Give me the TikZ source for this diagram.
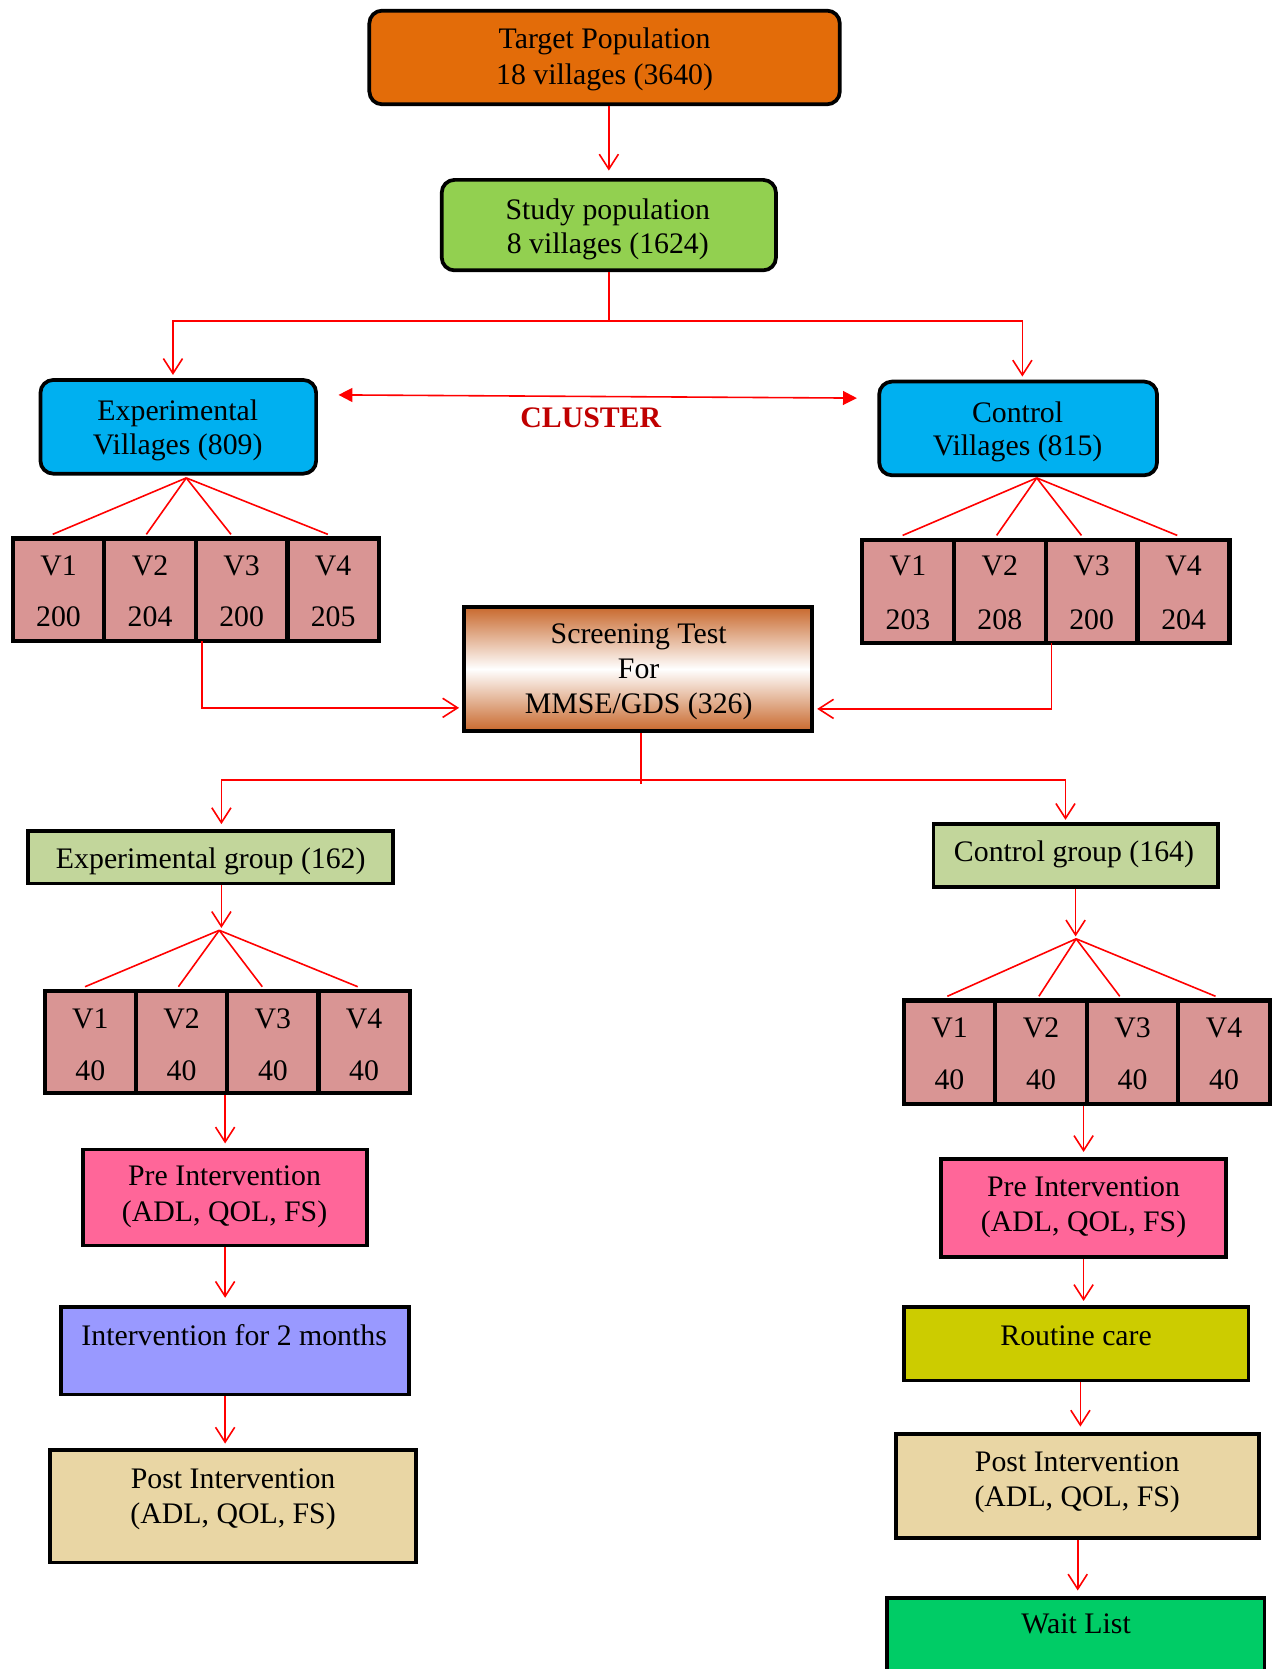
\documentclass[tikz,border=0pt]{standalone}
\usepackage{fontspec}
\setmainfont{Liberation Serif}
\usetikzlibrary{arrows.meta,calc}
\definecolor{corange}{HTML}{E36C09}
\definecolor{cgreen}{HTML}{92D050}
\definecolor{cblue}{HTML}{00B0F0}
\definecolor{cpink}{HTML}{D99594}
\definecolor{colive}{HTML}{C2D69B}
\definecolor{cmag}{HTML}{FF6699}
\definecolor{cviolet}{HTML}{9999FF}
\definecolor{cyellow}{HTML}{CCCC00}
\definecolor{cwait}{HTML}{00CC66}
\definecolor{cbeige}{RGB}{233,214,164}
\definecolor{cscr}{RGB}{200,104,44}
\definecolor{cclus}{HTML}{C00000}
\begin{document}
\begin{tikzpicture}[x=1pt,y=-1pt,
  sbox/.style={draw=black, line width=3.5pt, inner sep=0pt},
  rbox/.style={sbox, rounded corners=12pt},
  cell/.style={draw=black, line width=4pt, inner sep=0pt, fill=cpink},
  txt/.style={anchor=base, inner sep=0pt, font=\fontsize{28}{33}\selectfont},
  conn/.style={draw=red, line width=1.5pt},
  arr/.style={conn, -{Straight Barb[length=14pt,width=18pt]}},
  clus/.style={conn, {Triangle[length=13pt,width=13pt]}-{Triangle[length=13pt,width=13pt]}}
]
\useasboundingbox (0,0) rectangle (1198,1568);
\fill[white] (0,0) rectangle (1198,1568);

% main boxes
\node[rbox, fill=corange, minimum width=442pt, minimum height=88pt] (tp) at (568,54) {};
\node[rbox, fill=cgreen, minimum width=314pt, minimum height=85pt] (sp) at (572,211.5) {};
\node[rbox, fill=cblue, minimum width=259pt, minimum height=88pt] (ev) at (167.5,401) {};
\node[rbox, fill=cblue, minimum width=261pt, minimum height=88pt] (cv) at (956.5,402.5) {};
\node[sbox, top color=cscr, bottom color=cscr, middle color=white, minimum width=327pt, minimum height=117pt] (scr) at (599.5,628.5) {};
\node[sbox, fill=colive, minimum width=343pt, minimum height=49pt] (eg) at (197.5,805.5) {};
\node[sbox, fill=colive, minimum width=267pt, minimum height=59pt] (cg) at (1010.5,803.5) {};
\node[sbox, fill=cmag, minimum width=267pt, minimum height=90pt] (epre) at (211.5,1125) {};
\node[sbox, fill=cviolet, minimum width=327pt, minimum height=82pt] (eint) at (220.5,1269) {};
\node[sbox, fill=cbeige, minimum width=344pt, minimum height=106pt] (epost) at (219,1415) {};
\node[sbox, fill=cmag, minimum width=268pt, minimum height=92pt] (cpre) at (1018,1135) {};
\node[sbox, fill=cyellow, minimum width=324pt, minimum height=69pt] (rc) at (1011,1262.5) {};
\node[sbox, fill=cbeige, minimum width=341pt, minimum height=98pt] (cpost) at (1012.5,1396) {};
\node[sbox, fill=cwait, minimum width=355pt, minimum height=80pt] (wl) at (1010.5,1541) {};

% village cells
\foreach \i/\x/\v in {1/55/200,2/141/204,3/227/200,4/313/205}{
  \node[cell, minimum width=86pt, minimum height=96pt] (ev\i) at (\x,554) {};
  \node[txt] (evl\i) at (\x,541) {V\i};
  \node[txt] (evn\i) at (\x,589) {\v};
}
\foreach \i/\x/\v in {1/853/203,2/939.3/208,3/1025.6/200,4/1112/204}{
  \node[cell, minimum width=86.3pt, minimum height=97pt] (cv\i) at (\x,555.5) {};
  \node[txt] (cvl\i) at (\x,541) {V\i};
  \node[txt] (cvn\i) at (\x,591) {\v};
}
\foreach \i/\x in {1/84.9,2/170.6,3/256.4,4/342.1}{
  \node[cell, minimum width=85.75pt, minimum height=96pt] (egc\i) at (\x,979) {};
  \node[txt] (egl\i) at (\x,966) {V\i};
  \node[txt] (egn\i) at (\x,1015) {40};
}
\foreach \i/\x in {1/892,2/978,3/1064,4/1150}{
  \node[cell, minimum width=86pt, minimum height=97pt] (cgc\i) at (\x,988.5) {};
  \node[txt] (cgl\i) at (\x,975) {V\i};
  \node[txt] (cgn\i) at (\x,1024) {40};
}

% texts
\node[txt] (tpt1) at (568,46) {Target Population};
\node[txt] (tpt2) at (568,79) {18 villages (3640)};
\node[txt] (spt1) at (571,206) {Study population};
\node[txt] (spt2) at (571,238) {8 villages (1624)};
\node[txt] (evt1) at (167,395) {Experimental};
\node[txt] (evt2) at (167,427) {Villages (809)};
\node[txt] (cvt1) at (956,397) {Control};
\node[txt] (cvt2) at (956,428) {Villages (815)};
\node[txt, font=\fontsize{28}{33}\selectfont\bfseries, text=cclus] (clt) at (555,402) {CLUSTER};
\node[txt] (scrt1) at (600,605) {Screening Test};
\node[txt] (scrt2) at (600,637) {For};
\node[txt] (scrt3) at (600,670) {MMSE/GDS (326)};
\node[txt] (egt) at (198,816) {Experimental group (162)};
\node[txt] (cgt) at (1009,809) {Control group (164)};
\node[txt] (eprt1) at (211,1114) {Pre Intervention};
\node[txt] (eprt2) at (211,1148) {(ADL, QOL, FS)};
\node[txt] (eintt) at (220,1264) {Intervention for 2 months};
\node[txt] (epot1) at (219,1398) {Post Intervention};
\node[txt] (epot2) at (219,1431) {(ADL, QOL, FS)};
\node[txt] (cprt1) at (1018,1124) {Pre Intervention};
\node[txt] (cprt2) at (1018,1157) {(ADL, QOL, FS)};
\node[txt] (rct) at (1011,1264) {Routine care};
\node[txt] (cpot1) at (1012,1382) {Post Intervention};
\node[txt] (cpot2) at (1012,1415) {(ADL, QOL, FS)};
\node[txt] (wlt) at (1011,1535) {Wait List};

% connectors
\draw[arr] (tp.south -| sp.north) -- ([yshift=7pt]sp.north);
\draw[arr] (sp.south) -- ++(0,46) -| ([xshift=-5pt,yshift=3pt]ev.north);
\draw[arr] (sp.south) -- ++(0,46) -| ([xshift=4pt,yshift=3pt]cv.north);

\coordinate (cl1) at (318,371);
\coordinate (cl2) at (805,374);
\draw[clus] (cl1) -- (cl2);

\coordinate (eva) at (175,449);
\draw[conn] (eva) -- ([xshift=-5.5pt,yshift=2pt]ev1.north);
\draw[conn] (eva) -- ([xshift=-3.5pt,yshift=2pt]ev2.north);
\draw[conn] (eva) -- ([xshift=-10pt,yshift=2pt]ev3.north);
\draw[conn] (eva) -- ([xshift=-5pt,yshift=2pt]ev4.north);

\coordinate (cva) at (974,449);
\draw[conn] (cva) -- ([xshift=-5pt,yshift=2pt]cv1.north);
\draw[conn] (cva) -- ([xshift=-3pt,yshift=2pt]cv2.north);
\draw[conn] (cva) -- ([xshift=-9.6pt,yshift=2pt]cv3.north);
\draw[conn] (cva) -- ([xshift=-6pt,yshift=2pt]cv4.north);

\draw[arr] ([xshift=-37pt,yshift=2pt]ev3.south) |- ([xshift=-3pt,yshift=-36.5pt]scr.west);
\draw[arr] ([xshift=-37.6pt,yshift=2pt]cv3.south) |- ([xshift=3pt,yshift=-37.5pt]scr.east);

\draw[conn] ([xshift=2.5pt]scr.south) -- ++(0,48);
\draw[arr] ([xshift=2.5pt]scr.south) ++(0,44) -| ([xshift=10.5pt,yshift=5pt]eg.north);
\draw[arr] ([xshift=2.5pt]scr.south) ++(0,44) -| ([xshift=-9.5pt,yshift=2pt]cg.north);

\draw[arr] ([xshift=10.5pt]eg.south) -- ++(0,40);
\coordinate (ega) at (206,874);
\draw[conn] (ega) -- ([xshift=-5pt,yshift=2pt]egc1.north);
\draw[conn] (ega) -- ([xshift=-3pt,yshift=2pt]egc2.north);
\draw[conn] (ega) -- ([xshift=-10pt,yshift=2pt]egc3.north);
\draw[conn] (ega) -- ([xshift=-6pt,yshift=2pt]egc4.north);

\draw[arr] (cg.south) -- ++(0,45);
\coordinate (cga) at (1011,882);
\draw[conn] (cga) -- ([xshift=-2pt,yshift=2pt]cgc1.north);
\draw[conn] (cga) -- ([xshift=-2pt,yshift=2pt]cgc2.north);
\draw[conn] (cga) -- ([xshift=-12pt,yshift=2pt]cgc3.north);
\draw[conn] (cga) -- ([xshift=-8pt,yshift=2pt]cgc4.north);

\draw[arr, shorten >=4pt] (epre.north |- egc2.south) -- (epre.north);
\draw[arr, shorten >=7pt] (epre.south) -- (epre.south |- eint.north);
\draw[arr, shorten >=4pt] (epre.south |- eint.south) -- (epre.south |- epost.north);

\draw[arr, shorten >=5pt] (cpre.north |- cgc2.south) -- (cpre.north);
\draw[arr, shorten >=4pt] (cpre.south) -- (cpre.south |- rc.north);
\draw[arr, shorten >=5pt] ([xshift=4pt]rc.south) -- ([xshift=4pt]rc.south |- cpost.north);
\draw[arr, shorten >=5pt] (cpost.south) -- (cpost.south |- wl.north);
\end{tikzpicture}
\end{document}
